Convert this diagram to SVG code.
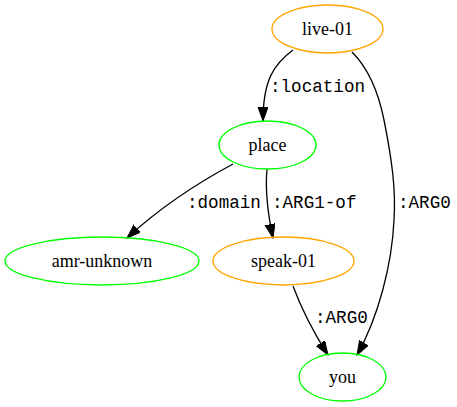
<svg xmlns="http://www.w3.org/2000/svg" width="457" height="407" viewBox="0 0 457 407">
<style>
.n ellipse{fill:none;stroke-width:1.3}
.pred ellipse{stroke:#FFA500}
.conc ellipse{stroke:#00FF00}
.n text{font-family:"Liberation Serif","Times New Roman",serif;font-size:18px;text-anchor:middle;fill:#000}
.e path{fill:none;stroke:#000;stroke-width:1.3;marker-end:url(#ah)}
.e text{font-family:"Liberation Mono","Courier New",monospace;font-size:17.6px;fill:#000}
</style>
<defs>
<marker id="ah" markerUnits="userSpaceOnUse" markerWidth="15" markerHeight="11" refX="14" refY="5" orient="auto" viewBox="0 0 15 11">
<path d="M0,0 L14,5 L0,10 z" fill="#000" stroke="#000" stroke-width="1"/>
</marker>
</defs>
<rect width="457" height="407" fill="#fff"/>
<g id="connectors" class="e">
<path d="M293,50 C274,64 263,80 263,121"/>
<text x="270" y="92">:location</text>
<path d="M233,164 C205,179 165,203 127,238"/>
<text x="187" y="208">:domain</text>
<path d="M267,169 C265,190 267,210 273,238"/>
<text x="272" y="208">:ARG1-of</text>
<path d="M352,52 C368,68 378,90 384,120 C392,160 396,190 394,220 C392,265 378,318 357,355"/>
<text x="398" y="208">:ARG0</text>
<path d="M293,286 C300,305 312,330 328,355"/>
<text x="315" y="323">:ARG0</text>
</g>
<g id="live-01" class="n pred"><ellipse cx="327.5" cy="29" rx="55.5" ry="24"/><text x="327.5" y="35">live-01</text></g>
<g id="place" class="n conc"><ellipse cx="267.5" cy="145" rx="48.5" ry="24"/><text x="267.5" y="151">place</text></g>
<g id="amr-unknown" class="n conc"><ellipse cx="102" cy="261" rx="97" ry="24"/><text x="102" y="267">amr-unknown</text></g>
<g id="speak-01" class="n pred"><ellipse cx="283.5" cy="261" rx="70.5" ry="24"/><text x="283.5" y="267">speak-01</text></g>
<g id="you" class="n conc"><ellipse cx="342.5" cy="377" rx="43.5" ry="24"/><text x="342.5" y="383">you</text></g>
</svg>
